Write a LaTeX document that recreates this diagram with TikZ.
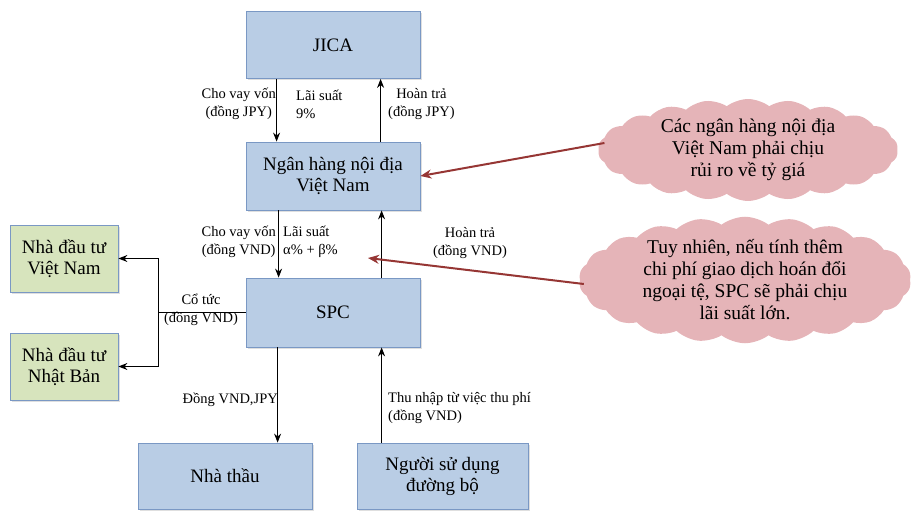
\documentclass[tikz,border=0pt]{standalone}
\usepackage{fontspec}
\setmainfont{Liberation Serif}
\usetikzlibrary{arrows.meta,shapes.symbols,shadows}
\definecolor{boxblue}{HTML}{B9CDE5}
\definecolor{boxline}{HTML}{7A98C4}
\definecolor{boxgreen}{HTML}{D7E4BD}
\definecolor{cloudpink}{HTML}{E5B4B8}
\definecolor{darkred}{HTML}{963634}
\begin{document}
\begin{tikzpicture}[x=1pt,y=-1pt,
  bluebox/.style={draw=boxline,line width=0.8pt,fill=boxblue,align=center,
    font=\fontsize{19}{21}\selectfont,inner sep=0pt,
    drop shadow={shadow xshift=2pt,shadow yshift=-2pt,opacity=0.25}},
  greenbox/.style={bluebox,fill=boxgreen},
  lbl/.style={inner sep=0pt,font=\fontsize{14.5}{18}\selectfont},
  flow/.style={line width=1pt,-{Stealth[length=9pt,width=7pt]}},
  plainline/.style={line width=1pt},
  note/.style={cloud,cloud puffs=22,cloud puff arc=75,cloud ignores aspect,fill=cloudpink,
    inner sep=0pt,align=center,font=\fontsize{19.5}{22}\selectfont},
  riskarrow/.style={draw=darkred,line width=2pt,-{Stealth[length=11pt,width=9pt]}}
]
\useasboundingbox (0,0) rectangle (918,513);

% boxes
\node[bluebox,minimum width=174pt,minimum height=67pt] (jica) at (333,45) {JICA};
\node[bluebox,minimum width=174pt,minimum height=68pt] (bank) at (333,176) {Ngân hàng nội địa\\Việt Nam};
\node[bluebox,minimum width=174pt,minimum height=69pt] (spc) at (333,312.5) {SPC};
\node[greenbox,minimum width=108pt,minimum height=67pt] (vn) at (64,258.5) {Nhà đầu tư\\Việt Nam};
\node[greenbox,minimum width=108pt,minimum height=67pt] (nb) at (64,366.5) {Nhà đầu tư\\Nhật Bản};
\node[bluebox,minimum width=174pt,minimum height=66pt] (thau) at (225,476) {Nhà thầu};
\node[bluebox,minimum width=171pt,minimum height=66pt] (user) at (442.5,476) {Người sử dụng\\đường bộ};

% clouds
\node[note,minimum width=300pt,minimum height=102pt] (c1) at (748,150) {Các ngân hàng nội địa\\Việt Nam phải chịu\\rủi ro về tỷ giá};
\node[note,minimum width=332pt,minimum height=126pt] (c2) at (745,280) {Tuy nhiên, nếu tính thêm\\chi phí giao dịch hoán đổi\\ngoại tệ, SPC sẽ phải chịu\\lãi suất lớn.};

% flows JICA <-> bank
\draw[flow] ([xshift=31pt]jica.south west) -- ([xshift=31pt]bank.north west);
\draw[flow] ([xshift=135pt]bank.north west) -- ([xshift=135pt]jica.south west);
% flows bank <-> SPC
\draw[flow] ([xshift=33pt]bank.south west) -- ([xshift=33pt]spc.north west);
\draw[flow] ([xshift=136pt]spc.north west) -- ([xshift=136pt]bank.south west);
% SPC -> contractor, users -> SPC
\draw[flow] ([xshift=32pt]spc.south west) -- ([xshift=140pt]thau.north west);
\draw[flow] ([xshift=25pt]user.north west) -- ([xshift=136pt]spc.south west);
% dividends
\coordinate (split) at (158,312.5);
\draw[plainline] (spc.west) -- (split);
\draw[flow] (split) |- (vn.east);
\draw[flow] (split) |- (nb.east);

% labels
\node[lbl,align=center,anchor=east] (l1) at (276,104) {Cho vay vốn\\(đồng JPY)};
\node[lbl,align=left,anchor=west] (l2) at (296,104) {Lãi suất\\9\%};
\node[lbl,align=center,anchor=west] (l3) at (388,104) {Hoàn trả\\(đồng JPY)};
\node[lbl,align=center,anchor=east] (l4) at (276,242) {Cho vay vốn\\(đồng VND)};
\node[lbl,align=left,anchor=west] (l5) at (283,242) {Lãi suất\\α\% + β\%};
\node[lbl,align=center] (l6) at (470,243) {Hoàn trả\\(đồng VND)};
\node[lbl,align=center] (l7) at (201,310) {Cổ tức\\(đồng VND)};
\node[lbl,anchor=east] (l8) at (278,400) {Đồng VND,JPY};
\node[lbl,align=left,anchor=west] (l9) at (388,408) {Thu nhập từ việc thu phí\\(đồng VND)};

% risk arrows
\coordinate (tip2) at (368,258);
\draw[riskarrow] ([xshift=6pt,yshift=7pt]c1.west) -- (bank.east);
\draw[riskarrow] ([xshift=4pt,yshift=-4pt]c2.west) -- (tip2);
\end{tikzpicture}
\end{document}
